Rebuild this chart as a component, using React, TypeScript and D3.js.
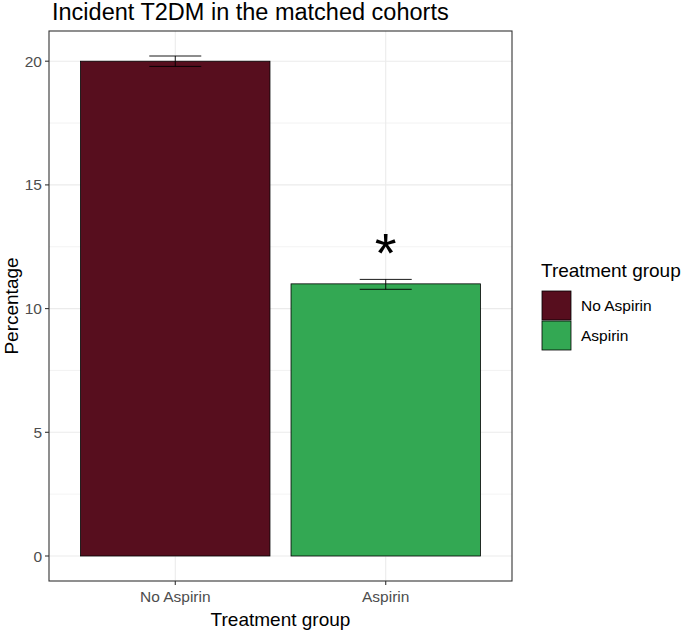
import { useEffect, useRef } from "react"
import * as d3 from "d3"

const groups = ["No Aspirin", "Aspirin"]
const percentages = [20.0, 11.0]
const errLow = [19.79, 10.78]
const errHigh = [20.21, 11.18]
const sigLabels = ["", "*"]
const sigY = [0, 12.5]
const yTicks = [0, 5, 10, 15, 20]
const yMinor = [2.5, 7.5, 12.5, 17.5]
const colors = ["#570E1E", "#33A853"]

export default function App() {
  const svgRef = useRef<SVGSVGElement>(null)

  useEffect(() => {
    if (!svgRef.current) return
    const svg = d3.select(svgRef.current)
    svg.selectAll("*").remove()

    const W = 685
    const H = 631
    // panel box
    const panel = { left: 49, top: 31, right: 512, bottom: 581 }

    svg.attr("width", W).attr("height", H)

    const ymax = 20.21
    const pad = ymax * 0.05
    const y = d3
      .scaleLinear()
      .domain([-pad, ymax + pad])
      .range([panel.bottom, panel.top])

    // discrete axis with 0.6 expansion on each side
    const pw = panel.right - panel.left
    const unit = pw / (groups.length - 1 + 1.2)
    const x = (i: number) => panel.left + unit * (0.6 + i)
    const barW = unit * 0.9

    svg.append("rect")
      .attr("x", 0).attr("y", 0).attr("width", W).attr("height", H)
      .attr("fill", "white")

    const g = svg.append("g")
    const font = "Liberation Sans, Arial, sans-serif"

    // grid
    yMinor.forEach((t) => {
      g.append("line")
        .attr("x1", panel.left).attr("x2", panel.right)
        .attr("y1", y(t)).attr("y2", y(t))
        .attr("stroke", "#EBEBEB").attr("stroke-width", 0.6)
    })
    yTicks.forEach((t) => {
      g.append("line")
        .attr("x1", panel.left).attr("x2", panel.right)
        .attr("y1", y(t)).attr("y2", y(t))
        .attr("stroke", "#EBEBEB").attr("stroke-width", 1.1)
    })
    groups.forEach((_, i) => {
      g.append("line")
        .attr("x1", x(i)).attr("x2", x(i))
        .attr("y1", panel.top).attr("y2", panel.bottom)
        .attr("stroke", "#EBEBEB").attr("stroke-width", 1.1)
    })

    // bars
    g.selectAll(".bar")
      .data(percentages)
      .join("rect")
      .attr("class", "bar")
      .attr("x", (_, i) => x(i) - barW / 2)
      .attr("y", (d) => y(d))
      .attr("width", barW)
      .attr("height", (d) => y(0) - y(d))
      .attr("fill", (_, i) => colors[i])
      .attr("stroke", "black")
      .attr("stroke-width", 0.8)

    // error bars
    const capW = 52
    groups.forEach((_, i) => {
      const eg = g.append("g").attr("stroke", "black").attr("stroke-width", 0.9)
      eg.append("line")
        .attr("x1", x(i)).attr("x2", x(i))
        .attr("y1", y(errLow[i])).attr("y2", y(errHigh[i]))
      ;[errLow[i], errHigh[i]].forEach((v) => {
        eg.append("line")
          .attr("x1", x(i) - capW / 2).attr("x2", x(i) + capW / 2)
          .attr("y1", y(v)).attr("y2", y(v))
      })
      if (sigLabels[i]) {
        g.append("text")
          .attr("x", x(i))
          .attr("y", y(sigY[i]))
          .attr("dy", "0.45em")
          .attr("text-anchor", "middle")
          .attr("font-family", font)
          .attr("font-size", 56)
          .attr("fill", "black")
          .text(sigLabels[i])
      }
    })

    // panel border
    g.append("rect")
      .attr("x", panel.left).attr("y", panel.top)
      .attr("width", pw).attr("height", panel.bottom - panel.top)
      .attr("fill", "none").attr("stroke", "#333333").attr("stroke-width", 1.1)

    // y ticks
    yTicks.forEach((t) => {
      g.append("line")
        .attr("x1", panel.left - 4).attr("x2", panel.left)
        .attr("y1", y(t)).attr("y2", y(t))
        .attr("stroke", "#333333").attr("stroke-width", 1.1)
      g.append("text")
        .attr("x", panel.left - 7).attr("y", y(t))
        .attr("dy", "0.36em")
        .attr("text-anchor", "end")
        .attr("font-family", font).attr("font-size", 15.5)
        .attr("fill", "#4D4D4D")
        .text(t)
    })

    // x ticks
    groups.forEach((name, i) => {
      g.append("line")
        .attr("x1", x(i)).attr("x2", x(i))
        .attr("y1", panel.bottom).attr("y2", panel.bottom + 4)
        .attr("stroke", "#333333").attr("stroke-width", 1.1)
      g.append("text")
        .attr("x", x(i)).attr("y", 602)
        .attr("text-anchor", "middle")
        .attr("font-family", font).attr("font-size", 15.5)
        .attr("fill", "#4D4D4D")
        .text(name)
    })

    // axis titles
    g.append("text")
      .attr("x", (panel.left + panel.right) / 2).attr("y", 626)
      .attr("text-anchor", "middle")
      .attr("font-family", font).attr("font-size", 19)
      .attr("fill", "black")
      .text("Treatment group")

    g.append("text")
      .attr("transform", `translate(18,${(panel.top + panel.bottom) / 2}) rotate(-90)`)
      .attr("text-anchor", "middle")
      .attr("font-family", font).attr("font-size", 19)
      .attr("fill", "black")
      .text("Percentage")

    // title
    g.append("text")
      .attr("x", 52).attr("y", 20)
      .attr("font-family", font).attr("font-size", 23.5)
      .attr("fill", "black")
      .text("Incident T2DM in the matched cohorts")

    // legend
    const lg = g.append("g")
    lg.append("text")
      .attr("x", 541).attr("y", 277)
      .attr("font-family", font).attr("font-size", 19)
      .attr("fill", "black")
      .text("Treatment group")
    groups.forEach((name, i) => {
      const ky = 291 + i * 30
      lg.append("rect")
        .attr("x", 542).attr("y", ky)
        .attr("width", 29).attr("height", 29)
        .attr("fill", colors[i])
        .attr("stroke", "black").attr("stroke-width", 0.8)
      lg.append("text")
        .attr("x", 581).attr("y", ky + 14.5)
        .attr("dy", "0.36em")
        .attr("font-family", font).attr("font-size", 15.5)
        .attr("fill", "black")
        .text(name)
    })
  }, [])

  return (
    <div>
      <svg ref={svgRef} style={{ display: "block", position: "absolute", left: 0, top: 0 }}></svg>
    </div>
  )
}
